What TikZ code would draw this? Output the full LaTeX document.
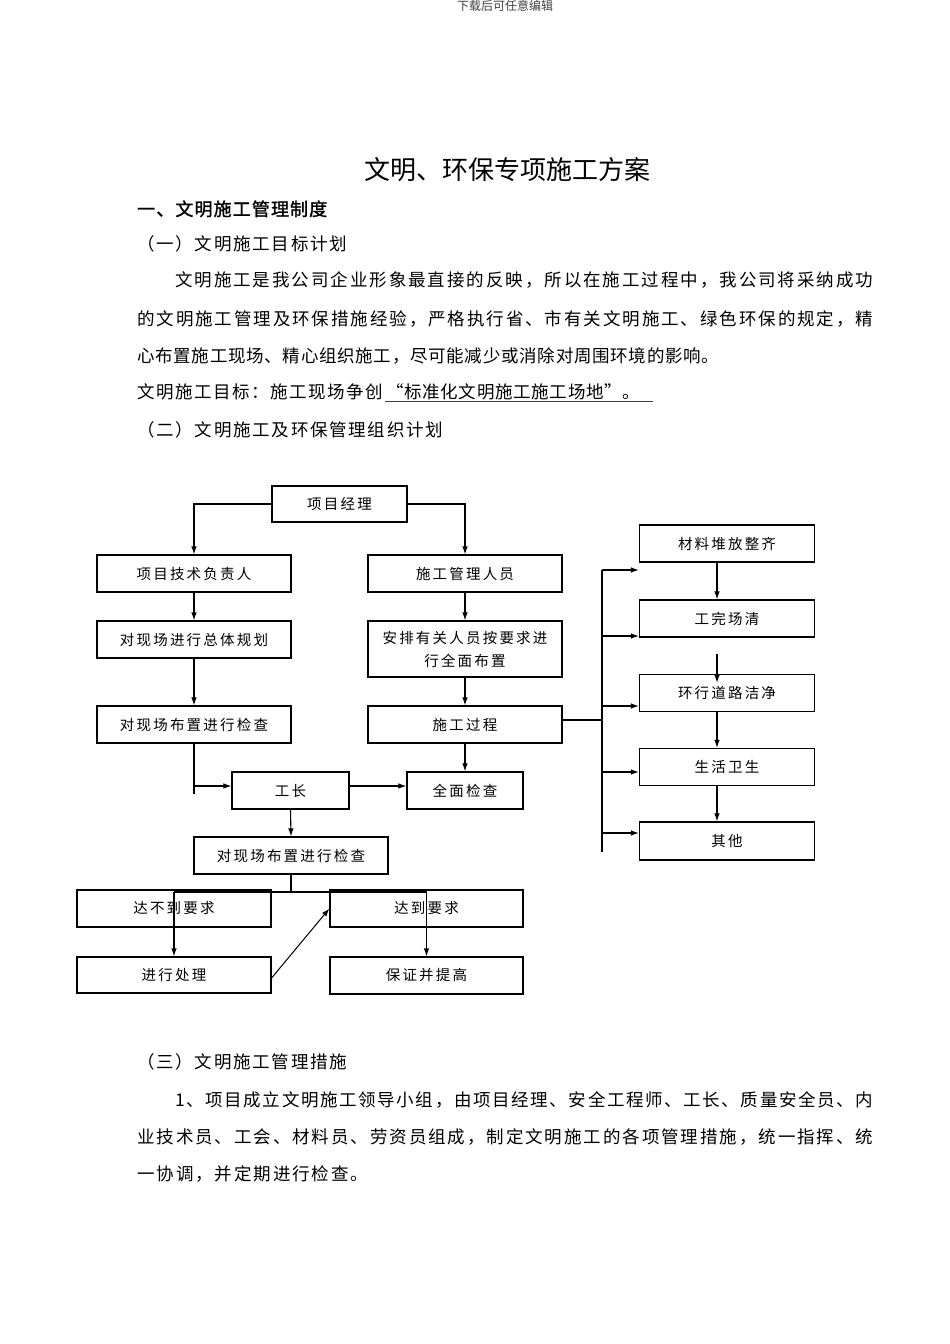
\documentclass[tikz,border=0pt]{standalone}
\usepackage{fontspec}
\newfontfamily\cjk{Noto Sans CJK SC}
\newfontfamily\cjkb[FakeBold=1.5]{Noto Sans CJK SC}
\usetikzlibrary{arrows.meta,calc}
\ExplSyntaxOn
\NewDocumentCommand \spreadtxt { m m }
  { \hbox to #1 { \tl_map_inline:nn {#2} { ##1 \hskip 0pt plus 1fil } \unskip } }
\NewDocumentCommand \boxtxt { m }
  { \tl_map_inline:nn {#1} { ##1 \kern 2.2pt } \unkern }
\ExplSyntaxOff
\begin{document}
\begin{tikzpicture}[x=1pt,y=-1pt,
  box/.style={draw, line width=1.2pt, inner sep=0pt, align=center,
    font=\cjk\fontsize{14.5}{23}\selectfont},
  ln/.style={line width=1.1pt},
  arw/.style={line width=1.1pt, -{Latex[length=8pt,width=5.5pt]}},
  tx/.style={inner sep=0pt, anchor=base west, font=\cjk\fontsize{17.5}{20}\selectfont}]
\useasboundingbox (0,0) rectangle (950,1344);
\fill[white] (0,0) rectangle (950,1344);

% header
\node[inner sep=0pt, anchor=base, text=black!75, font=\cjk\fontsize{12}{14}\selectfont] (hdr) at (505,10.5) {下载后可任意编辑};
% title
\node[tx, font=\cjk\fontsize{26}{30}\selectfont] (title) at (364,179.6) {\spreadtxt{280pt}{文明、环保专项施工方案}};
\node[tx, font=\cjkb\fontsize{18}{20}\selectfont] (h1) at (137,215.7) {\spreadtxt{190pt}{一、文明施工管理制度}};
\node[tx] (h11) at (137,250.5) {\spreadtxt{210pt}{（一）文明施工目标计划}};
\node[tx] (p1) at (175,286.5) {\spreadtxt{698pt}{文明施工是我公司企业形象最直接的反映，所以在施工过程中，我公司将采纳成功}};
\node[tx] (p2) at (137,325.5) {\spreadtxt{736pt}{的文明施工管理及环保措施经验，严格执行省、市有关文明施工、绿色环保的规定，精}};
\node[tx] (p3) at (137,362.5) {\spreadtxt{582pt}{心布置施工现场、精心组织施工，尽可能减少或消除对周围环境的影响。}};
\node[tx] (p4a) at (137,398.5) {\spreadtxt{246pt}{文明施工目标：施工现场争创}};
\node[tx] (p4b) at (386,398.5) {\spreadtxt{254pt}{“标准化文明施工施工场地”。}};
\draw[line width=1.2pt, black!75] (385,401.5) -- (653,401.5);
\node[tx] (h12) at (137,436.5) {\spreadtxt{306pt}{（二）文明施工及环保管理组织计划}};

\node[tx] (h13) at (137,1068.5) {\spreadtxt{210pt}{（三）文明施工管理措施}};
\node[tx] (q1) at (175,1106.5) {\spreadtxt{698pt}{1、项目成立文明施工领导小组，由项目经理、安全工程师、工长、质量安全员、内}};
\node[tx] (q2) at (137,1143.5) {\spreadtxt{736pt}{业技术员、工会、材料员、劳资员组成，制定文明施工的各项管理措施，统一指挥、统}};
\node[tx] (q3) at (137,1180.5) {\spreadtxt{231pt}{一协调，并定期进行检查。}};

% flowchart boxes
\node[box, minimum width=135, minimum height=36] (pm) at (339.5,504) {\boxtxt{项目经理}};
\node[box, minimum width=194, minimum height=37] (tech) at (194,573.5) {\boxtxt{项目技术负责人}};
\node[box, minimum width=194, minimum height=37] (plan) at (194,639.5) {\boxtxt{对现场进行总体规划}};
\node[box, minimum width=194, minimum height=37] (chk1) at (194,724.5) {\boxtxt{对现场布置进行检查}};
\node[box, minimum width=194, minimum height=37] (mgr) at (465,573.5) {\boxtxt{施工管理人员}};
\node[box, minimum width=194, minimum height=56] (arrange) at (465,649) {\boxtxt{安排有关人员按要求进}\\\boxtxt{行全面布置}};
\node[box, minimum width=194, minimum height=37] (proc) at (465,724.5) {\boxtxt{施工过程}};
\node[box, minimum width=117, minimum height=37] (fore) at (290.5,790.5) {\boxtxt{工长}};
\node[box, minimum width=116, minimum height=37] (full) at (465,790.5) {\boxtxt{全面检查}};
\node[box, minimum width=194, minimum height=37] (chk2) at (291,855.5) {\boxtxt{对现场布置进行检查}};
\node[box, minimum width=194, minimum height=37] (fail) at (174,908.5) {\boxtxt{达不到要求}};
\node[box, minimum width=193, minimum height=37] (pass) at (426.5,908.5) {\boxtxt{达到要求}};
\node[box, minimum width=194, minimum height=36] (handle) at (174,975) {\boxtxt{进行处理}};
\node[box, minimum width=193, minimum height=37] (keep) at (426.5,975.5) {\boxtxt{保证并提高}};
\node[box, minimum width=175, minimum height=37] (r1) at (727,543.5) {\boxtxt{材料堆放整齐}};
\node[box, minimum width=175, minimum height=37] (r2) at (727,618.5) {\boxtxt{工完场清}};
\node[box, minimum width=175, minimum height=37] (r3) at (727,693) {\boxtxt{环行道路洁净}};
\node[box, minimum width=175, minimum height=37] (r4) at (727,767) {\boxtxt{生活卫生}};
\node[box, minimum width=175, minimum height=38] (r5) at (727,841) {\boxtxt{其他}};

% connectors
\draw[arw] (pm.west) -| (tech.north);
\draw[arw] (pm.east) -| (mgr.north);
\draw[arw] (tech.south) -- (plan.north);
\draw[arw] (plan.south) -- (chk1.north);
\draw[arw] (mgr.south) -- (arrange.north);
\draw[arw] (arrange.south) -- (proc.north);
\coordinate (j1) at (194,786);
\coordinate (j1e) at (194,794);
\draw[ln] (chk1.south) -- (j1e);
\draw[arw] (j1) -- (fore.west |- j1);
\draw[arw] (fore.east |- j1) -- (full.west |- j1);
\draw[arw] (proc.south) -- (full.north);
\draw[arw] (fore.south) -- (chk2.north);
\coordinate (b0) at (291,892);
\coordinate (bl) at (174,892);
\coordinate (br) at (426.5,892);
\draw[ln] (chk2.south) -- (b0);
\draw[ln] (bl) -- (br);
\draw[arw] (bl) -- (handle.north);
\draw[arw] (br) -- (keep.north);
\draw[line width=1pt, -{Latex[length=8pt,width=5.5pt]}] ([yshift=-3pt]handle.east) -- (pass.west);

% right branch
\coordinate (pj) at (602,720);
\coordinate (v0) at (602,570);
\coordinate (v1) at (602,852);
\draw[ln] (proc.east |- pj) -- (pj);
\draw[ln] (v0) -- (v1);
\draw[arw] (v0) -- (r1.west |- v0);
\foreach \yy/\nn in {636/r2,706/r3,772/r4,833/r5}
  \draw[arw] (602,\yy) -- (\nn.west |- 602,\yy);
\draw[arw] ([xshift=-10pt]r1.south) -- ([xshift=-10pt]r2.north);
\draw[arw] ([xshift=-10pt,yshift=-16pt]r2.south) -- ([xshift=-10pt,yshift=-9pt]r3.north);
\draw[arw] ([xshift=-10pt]r3.south) -- ([xshift=-10pt]r4.north);
\draw[arw] ([xshift=-10pt]r4.south) -- ([xshift=-10pt]r5.north);
\end{tikzpicture}
\end{document}
